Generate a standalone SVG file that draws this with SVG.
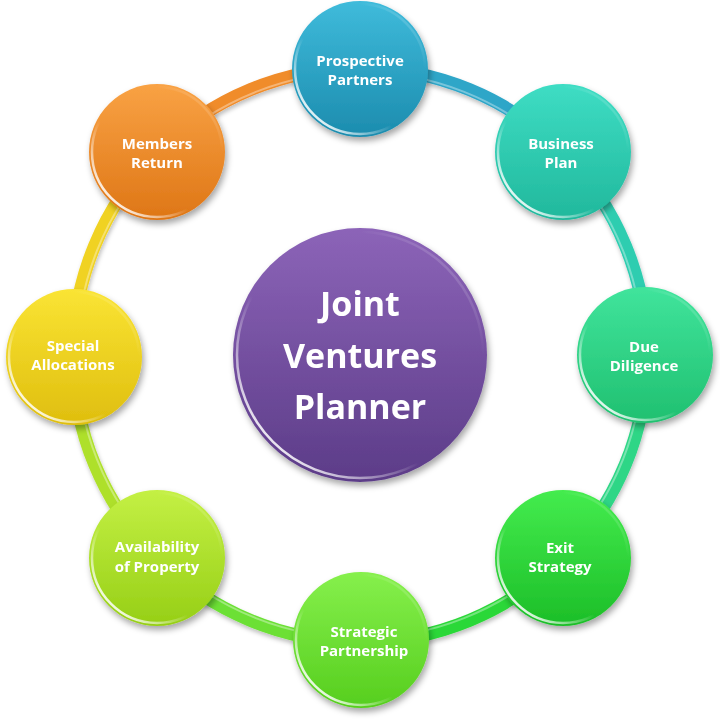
<svg xmlns="http://www.w3.org/2000/svg" width="720" height="720" viewBox="0 0 720 720">
<defs>
<filter id="sh" x="-20%" y="-20%" width="150%" height="150%">
<feDropShadow dx="2" dy="4" stdDeviation="3" flood-color="#000" flood-opacity="0.35"/>
</filter>
<filter id="lsh" x="-10%" y="-10%" width="120%" height="120%">
<feDropShadow dx="1" dy="3" stdDeviation="2" flood-color="#000" flood-opacity="0.25"/>
</filter>
<linearGradient id="rim" x1="1" y1="0" x2="0" y2="1">
<stop offset="0" stop-color="#fff" stop-opacity="0.35"/>
<stop offset="0.25" stop-color="#fff" stop-opacity="0"/>
<stop offset="0.6" stop-color="#fff" stop-opacity="0"/>
<stop offset="0.85" stop-color="#fff" stop-opacity="0.85"/>
<stop offset="1" stop-color="#fff" stop-opacity="0.5"/>
</linearGradient>
<linearGradient id="gP" x1="0" y1="0" x2="0" y2="1"><stop offset="0" stop-color="#3FBBDB"/><stop offset="1" stop-color="#1C8CAE"/></linearGradient>
<linearGradient id="gB" x1="0" y1="0" x2="0" y2="1"><stop offset="0" stop-color="#3EDDC4"/><stop offset="1" stop-color="#21B89C"/></linearGradient>
<linearGradient id="gD" x1="0" y1="0" x2="0" y2="1"><stop offset="0" stop-color="#40E49C"/><stop offset="1" stop-color="#20C070"/></linearGradient>
<linearGradient id="gE" x1="0" y1="0" x2="0" y2="1"><stop offset="0" stop-color="#44EC4E"/><stop offset="1" stop-color="#1CBE28"/></linearGradient>
<linearGradient id="gS" x1="0" y1="0" x2="0" y2="1"><stop offset="0" stop-color="#86F04C"/><stop offset="1" stop-color="#56CE1E"/></linearGradient>
<linearGradient id="gA" x1="0" y1="0" x2="0" y2="1"><stop offset="0" stop-color="#C4F044"/><stop offset="1" stop-color="#96CF16"/></linearGradient>
<linearGradient id="gY" x1="0" y1="0" x2="0" y2="1"><stop offset="0" stop-color="#FAE434"/><stop offset="1" stop-color="#DFBE0E"/></linearGradient>
<linearGradient id="gM" x1="0" y1="0" x2="0" y2="1"><stop offset="0" stop-color="#F9A244"/><stop offset="1" stop-color="#DE7616"/></linearGradient>
<linearGradient id="gC" x1="0" y1="0" x2="0" y2="1"><stop offset="0" stop-color="#8C64B8"/><stop offset="1" stop-color="#5C3C88"/></linearGradient>
</defs>
<style>
.seg{fill:none;stroke-width:13;stroke-linecap:butt;filter:url(#lsh)}
.hl{fill:none;stroke:#fff;stroke-width:2;stroke-opacity:0.35}
.rim{fill:none;stroke:url(#rim);stroke-width:2.5}
.n{filter:url(#sh)}
.t{font-family:"Open Sans","Liberation Sans",sans-serif;font-weight:700;font-size:15px;fill:#fff;text-anchor:middle}
.ct{font-family:"Open Sans","Liberation Sans",sans-serif;font-weight:700;font-size:34px;fill:#fff;text-anchor:middle}
</style>
<rect width="720" height="720" fill="#fff"/>
<g id="connectors">
<path class="seg" stroke="#F08C2A" d="M157 152 A287 287 0 0 1 360 68"/>
<path class="seg" stroke="#2EA6C8" d="M360 68 A287 287 0 0 1 563 152"/>
<path class="seg" stroke="#2FCDB0" d="M563 152 A287 287 0 0 1 647 355"/>
<path class="seg" stroke="#2ED686" d="M647 355 A287 287 0 0 1 563 558"/>
<path class="seg" stroke="#2CD838" d="M563 558 A287 287 0 0 1 360 642"/>
<path class="seg" stroke="#6CE036" d="M360 642 A287 287 0 0 1 157 558"/>
<path class="seg" stroke="#AEE02C" d="M157 558 A287 287 0 0 1 73 355"/>
<path class="seg" stroke="#F0D222" d="M73 355 A287 287 0 0 1 157 152"/>
<circle class="hl" cx="360" cy="355" r="283"/>
</g>
<g id="center" class="n">
<circle cx="360" cy="355" r="127" fill="url(#gC)"/>
<circle class="rim" cx="360" cy="355" r="123"/>
<text class="ct" x="360" y="316">Joint</text>
<text class="ct" x="360" y="368">Ventures</text>
<text class="ct" x="360" y="419">Planner</text>
</g>
<g id="prospective-partners" class="n">
<circle cx="360" cy="69" r="68" fill="url(#gP)"/>
<circle class="rim" cx="360" cy="69" r="65"/>
<text class="t" x="360" y="66">Prospective</text>
<text class="t" x="360" y="85">Partners</text>
</g>
<g id="business-plan" class="n">
<circle cx="563" cy="152" r="68" fill="url(#gB)"/>
<circle class="rim" cx="563" cy="152" r="65"/>
<text class="t" x="561" y="149">Business</text>
<text class="t" x="561" y="168">Plan</text>
</g>
<g id="due-diligence" class="n">
<circle cx="645" cy="355" r="68" fill="url(#gD)"/>
<circle class="rim" cx="645" cy="355" r="65"/>
<text class="t" x="644" y="352">Due</text>
<text class="t" x="644" y="371">Diligence</text>
</g>
<g id="exit-strategy" class="n">
<circle cx="563" cy="558" r="68" fill="url(#gE)"/>
<circle class="rim" cx="563" cy="558" r="65"/>
<text class="t" x="560" y="553">Exit</text>
<text class="t" x="560" y="572">Strategy</text>
</g>
<g id="strategic-partnership" class="n">
<circle cx="361" cy="640" r="68" fill="url(#gS)"/>
<circle class="rim" cx="361" cy="640" r="65"/>
<text class="t" x="364" y="637">Strategic</text>
<text class="t" x="364" y="656">Partnership</text>
</g>
<g id="availability-of-property" class="n">
<circle cx="157" cy="558" r="68" fill="url(#gA)"/>
<circle class="rim" cx="157" cy="558" r="65"/>
<text class="t" x="157" y="552">Availability</text>
<text class="t" x="157" y="572">of Property</text>
</g>
<g id="special-allocations" class="n">
<circle cx="74" cy="357" r="68" fill="url(#gY)"/>
<circle class="rim" cx="74" cy="357" r="65"/>
<text class="t" x="73" y="351">Special</text>
<text class="t" x="73" y="370">Allocations</text>
</g>
<g id="members-return" class="n">
<circle cx="157" cy="152" r="68" fill="url(#gM)"/>
<circle class="rim" cx="157" cy="152" r="65"/>
<text class="t" x="157" y="149">Members</text>
<text class="t" x="157" y="168">Return</text>
</g>
</svg>
